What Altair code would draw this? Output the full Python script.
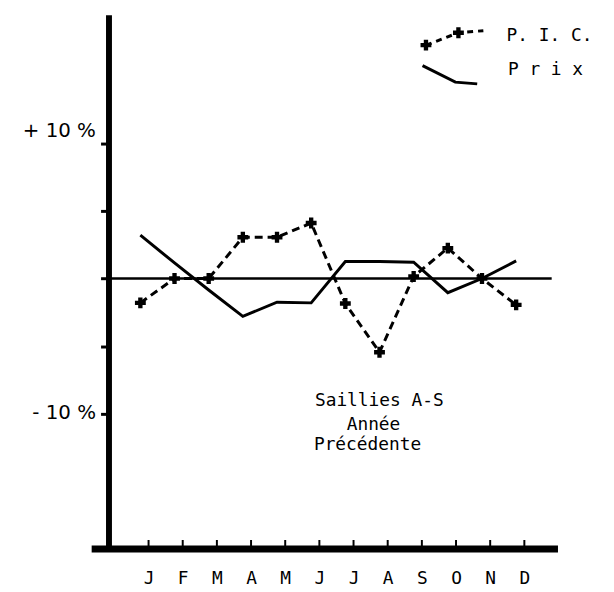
import json
import altair as alt
import pandas as pd

# ---- data ----
months = ["J", "F", "M", "A", "M", "J", "J", "A", "S", "O", "N", "D"]
pic = [-1.8, 0.0, 0.0, 3.05, 3.05, 4.1, -1.85, -5.45, 0.15, 2.25, 0.0, -1.95]
prix = [3.2, 1.15, -0.85, -2.8, -1.75, -1.8, 1.25, 1.25, 1.2, -1.05, 0.0, 1.3]
y_ticks = [-10, -5, 0, 5, 10]
tick_shift = 0.24  # month tick marks sit slightly right of the data points

# legend sample geometry (data units)
leg_pic_x = [8.36, 9.31, 10.04]
leg_pic_y = [17.24, 18.16, 18.31]
leg_prix_x = [8.26, 9.22, 9.86]
leg_prix_y = [15.73, 14.51, 14.38]
leg_text = ["P. I. C.", "P r i x"]
leg_text_x = [10.72, 10.76]
leg_text_y = [17.58, 15.0]

note_lines = ["Saillies A-S", "Année", "Précédente"]
note_x = [5.11, 6.04, 5.08]
note_y = [-9.41, -11.22, -12.69]

ylab_text = ["+  10  %", "-   10  %"]
ylab_y = [10.48, -10.37]
ylab_x = [-1.30, -1.30]

X_DOMAIN = [-1.44, 12.21]
Y_DOMAIN = [-19.95, 19.48]
W, H = 471, 539

df = pd.DataFrame({"i": list(range(12)), "month": months, "pic": pic, "prix": prix})
ticks_df = pd.DataFrame({"t": [i + tick_shift for i in range(12)],
                         "y0": [Y_DOMAIN[0]] * 12, "y1": [Y_DOMAIN[0] + 0.63] * 12})

xs = alt.Scale(domain=X_DOMAIN, nice=False, zero=False)
ys = alt.Scale(domain=Y_DOMAIN, nice=False, zero=False)

x_axis = alt.Axis(
    values=[i + tick_shift for i in range(12)],
    labelExpr=f"{json.dumps(months)}[round(datum.value - {tick_shift})]",
    domainWidth=7, domainColor="black", tickSize=0, grid=False, title=None,
    labelFont="DejaVu Sans Mono", labelFontSize=18, labelColor="black",
    labelPadding=21, labelFlush=False, labelOverlap=False,
)
y_axis = alt.Axis(
    values=y_ticks, labels=False, tickSize=8, tickWidth=3, tickColor="black",
    domainWidth=6, domainColor="black", offset=-17.5, grid=False, title=None,
)


def X(field):
    return alt.X(field, scale=xs, axis=x_axis)


def Y(field):
    return alt.Y(field, scale=ys, axis=y_axis)


base = alt.Chart(df)

prix_line = base.mark_line(color="black", strokeWidth=3).encode(x=X("i:Q"), y=Y("prix:Q"))
pic_line = base.mark_line(color="black", strokeWidth=3, strokeDash=[8, 5]).encode(
    x=X("i:Q"), y=Y("pic:Q")
)
pic_pts = base.mark_point(shape="cross", filled=True, size=120, color="black", opacity=1).encode(
    x=X("i:Q"), y=Y("pic:Q")
)

zero_line = alt.Chart(pd.DataFrame({"x0": [-0.92], "x1": [12.04], "y": [0]})).mark_rule(
    color="black", strokeWidth=2.5
).encode(x=X("x0:Q"), x2="x1:Q", y=Y("y:Q"))

xticks = alt.Chart(ticks_df).mark_rule(color="black", strokeWidth=2).encode(
    x=X("t:Q"), y=Y("y0:Q"), y2="y1:Q"
)

# legend
leg_pic_df = pd.DataFrame({"x": leg_pic_x, "y": leg_pic_y, "o": [0, 1, 2]})
leg_prix_df = pd.DataFrame({"x": leg_prix_x, "y": leg_prix_y, "o": [0, 1, 2]})
leg_pic_line = alt.Chart(leg_pic_df).mark_line(color="black", strokeWidth=3, strokeDash=[6, 5]).encode(
    x=X("x:Q"), y=Y("y:Q"), order="o:Q"
)
leg_pic_pts = alt.Chart(leg_pic_df.iloc[:2]).mark_point(
    shape="cross", filled=True, size=120, color="black", opacity=1
).encode(x=X("x:Q"), y=Y("y:Q"))
leg_prix_line = alt.Chart(leg_prix_df).mark_line(color="black", strokeWidth=3).encode(
    x=X("x:Q"), y=Y("y:Q"), order="o:Q"
)
leg_txt = alt.Chart(pd.DataFrame({"x": leg_text_x, "y": leg_text_y, "t": leg_text})).mark_text(
    align="left", baseline="alphabetic", font="DejaVu Sans Mono", fontSize=18, color="black"
).encode(x=X("x:Q"), y=Y("y:Q"), text="t:N")

note = alt.Chart(pd.DataFrame({"x": note_x, "y": note_y, "t": note_lines})).mark_text(
    align="left", baseline="alphabetic", font="DejaVu Sans Mono", fontSize=18, color="black"
).encode(x=X("x:Q"), y=Y("y:Q"), text="t:N")

ylab = alt.Chart(pd.DataFrame({"x": ylab_x, "y": ylab_y, "t": ylab_text})).mark_text(
    align="right", baseline="alphabetic", font="DejaVu Sans", fontSize=20, color="black"
).encode(x=X("x:Q"), y=Y("y:Q"), text="t:N")

chart = alt.layer(
    prix_line, zero_line, xticks, pic_line, pic_pts,
    leg_pic_line, leg_pic_pts, leg_prix_line, leg_txt, note, ylab,
).properties(
    width=W, height=H,
    autosize=alt.AutoSizeParams(type="none"),
    padding={"left": 84, "top": 4, "right": 49, "bottom": 41},
    background="white",
).configure_view(stroke=None)

chart.save("out.html", embed_options={"renderer": "svg", "actions": False})
